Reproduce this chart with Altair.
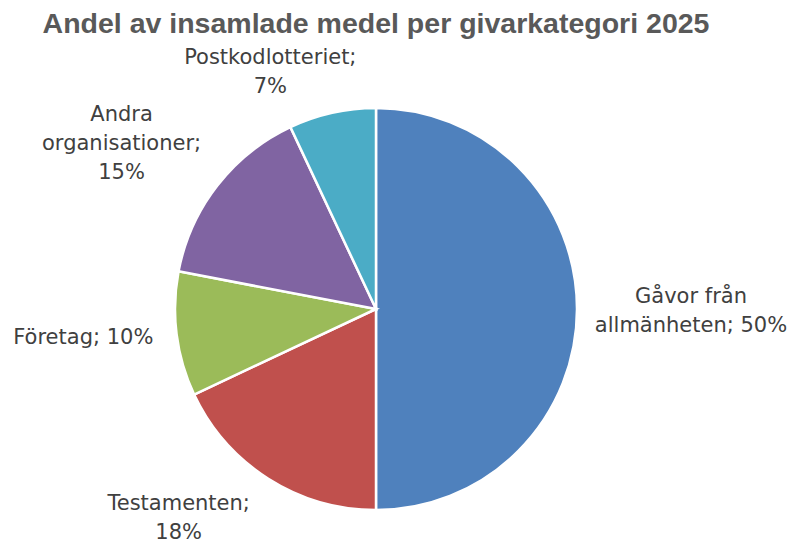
import math
import altair as alt
import pandas as pd

categories = ["Gåvor från allmänheten", "Testamenten", "Företag", "Andra organisationer", "Postkodlotteriet"]
shares = [50, 18, 10, 15, 7]
label_texts = ["Gåvor från\nallmänheten; 50%", "Testamenten;\n18%", "Företag; 10%",
               "Andra\norganisationer;\n15%", "Postkodlotteriet;\n7%"]
colors = ["#4F81BD", "#C0504D", "#9BBB59", "#8064A2", "#4BACC6"]

df = pd.DataFrame({
    "kategori": categories,
    "andel": shares,
    "etikett": label_texts,
    "ordning": list(range(len(categories))),
})

LINE_H = 29
# label placement (radius, dx, dy) per category, relative to each slice's mid angle
placement = {
    "Gåvor från allmänheten": (321, -6, 2),
    "Testamenten": (288, -43, -34),
    "Företag": (295, 0, -8),
    "Andra organisationer": (303, -15, 21),
    "Postkodlotteriet": (260, -49, 17),
}

theta_scale = alt.Scale(domain=[0, 100], range=[0, 2 * math.pi])

base = alt.Chart(df)

pie = base.mark_arc(outerRadius=201, stroke="white", strokeWidth=2.5).encode(
    theta=alt.Theta("andel:Q", stack=True, scale=theta_scale),
    order=alt.Order("ordning:Q"),
    color=alt.Color("kategori:N", scale=alt.Scale(domain=categories, range=colors), legend=None),
)

label_base = base.transform_window(
    cum="sum(andel)", sort=[alt.SortField("ordning")], frame=[None, 0]
).transform_calculate(mid="datum.cum - datum.andel / 2")

layers = [pie]
for cat, txt in zip(categories, label_texts):
    r, dx, dy = placement[cat]
    n_lines = txt.count("\n") + 1
    layers.append(
        label_base.transform_filter(alt.datum.kategori == cat).mark_text(
            radius=r, dx=dx, dy=dy - (n_lines - 1) * LINE_H / 2,
            align="center", baseline="middle",
            lineBreak="\n", lineHeight=LINE_H, fontSize=21, font="DejaVu Sans",
            color="#404040",
        ).encode(
            theta=alt.Theta("mid:Q", stack=None, scale=theta_scale),
            text="etikett:N",
        )
    )

chart = alt.layer(*layers).properties(
    width=736,
    height=468,
    autosize=alt.AutoSizeParams(type="none"),
    padding={"left": 0, "top": 67, "right": 44, "bottom": 0},
    title=alt.TitleParams(
        "Andel av insamlade medel per givarkategori 2025",
        font="Liberation Sans", fontSize=28.5, fontWeight="bold",
        color="#595959", anchor="middle", baseline="alphabetic", offset=-15,
        frame="group",
    ),
).resolve_scale(theta="independent").configure_view(stroke=None)

chart.save("out.html", embed_options={"renderer": "svg", "actions": False})
